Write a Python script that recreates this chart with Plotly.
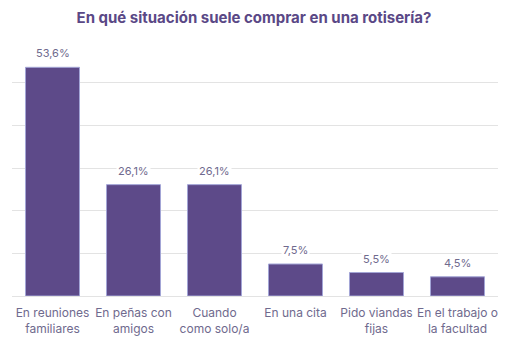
import plotly.graph_objects as go

categories = ["En reuniones<br>familiares", "En peñas con<br>amigos", "Cuando<br>como solo/a",
              "En una cita", "Pido viandas<br>fijas", "En el trabajo o<br>la facultad"]
values = [53.6, 26.1, 26.1, 7.5, 5.5, 4.5]
labels = ["53,6%", "26,1%", "26,1%", "7,5%", "5,5%", "4,5%"]

bar_color = "#5d4a89"
text_color = "#6f6a8e"
font = "Inter"

fig = go.Figure(go.Bar(
    x=categories, y=values,
    marker=dict(color=bar_color, line=dict(color="#a3a5d6", width=1)),
    hoverinfo="skip",
))

for c, v, t in zip(categories, values, labels):
    fig.add_annotation(x=c, y=v, text=t, showarrow=False, yanchor="bottom", yshift=5,
                       font=dict(family=font, size=11, color=text_color),
                       bgcolor="white", borderpad=1)

fig.update_layout(
    width=508, height=340,
    margin=dict(l=12, r=10, t=40, b=44, autoexpand=False),
    paper_bgcolor="white", plot_bgcolor="white",
    bargap=0.333,
    title=dict(text="<b>En qué situación suele comprar en una rotisería?</b>",
               x=0.5, xanchor="center", y=0.947, yanchor="middle",
               font=dict(family=font, size=15, color="#5a4886")),
    showlegend=False,
)
fig.update_yaxes(range=[0, 60], dtick=10, showticklabels=False, gridcolor="#e3e3e3",
                 gridwidth=1, zeroline=True, zerolinecolor="#e3e3e3", zerolinewidth=1,
                 fixedrange=True)
fig.update_xaxes(tickfont=dict(family=font, size=12, color=text_color),
                 ticklabelstandoff=8, automargin=False,
                 showline=False, ticks="", fixedrange=True)

fig.write_html("out.html")
